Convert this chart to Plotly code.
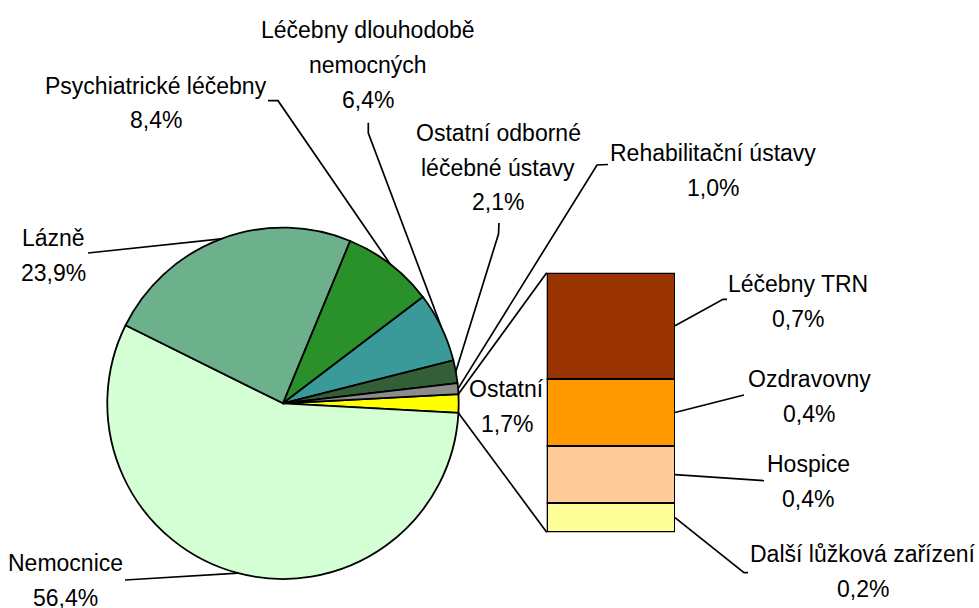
import math
import plotly.graph_objects as go

# ---------------- data ----------------
pie_labels = ["Ostatní", "Nemocnice", "Lázně", "Psychiatrické léčebny",
              "Léčebny dlouhodobě<br>nemocných", "Ostatní odborné<br>léčebné ústavy",
              "Rehabilitační ústavy"]
pie_values = [1.7, 56.4, 23.9, 8.4, 6.4, 2.1, 1.0]
pie_colors = ["#FFFF00", "#D4FFD4", "#6DB08C", "#2A912A", "#3A9A9A", "#335F38", "#8C8C8C"]

bar_labels = ["Další lůžková zařízení", "Hospice", "Ozdravovny", "Léčebny TRN"]
bar_values = [0.19, 0.37, 0.44, 0.69]
bar_colors = ["#FFFF99", "#FFCC99", "#FF9900", "#993300"]

# ---------------- layout constants (pixels) ----------------
W, H = 979, 608
FONT = dict(family="Liberation Sans, Arial, sans-serif", size=23, color="black")
LS = 35  # line spacing of labels
PIE_BOX = (107.3, 227.3, 458.7, 579.3)   # left, top, right, bottom
BAR_BOX = (546.7, 272.7, 675.0, 532.3)
ROT = 87.0

# label anchor: (center x, first baseline y) ; leader points near label
pie_label_pos = [(507, 396.7), (65, 570), (53, 245), (156, 93), (368, 37), (498, 140), (713, 160)]
pie_leader_pts = [None, [(125, 580)], [(88, 253)], [(268, 100.7), (278, 100.7)],
                  [(368.3, 122.7), (368.3, 133)], [(499, 223), (498.5, 234)],
                  [(608, 164.5), (597, 165)]]
bar_label_pos = [(862.5, 561.7), (808, 471.7), (809, 386.7), (797.5, 291.7)]
bar_leader_pts = [[(748, 572.7), (744, 572.7)], [(764, 480.7)], [(744, 395)], [(727, 299.3), (723, 299.3)]]


def px(x):
    return x / W


def py(y):
    return 1 - y / H


def pct(v):
    return f"{v:.1f}".replace(".", ",") + "%"


fig = go.Figure()

pie_dom_x = [px(PIE_BOX[0]), px(PIE_BOX[2])]
pie_dom_y = [py(PIE_BOX[3]), py(PIE_BOX[1])]
fig.add_trace(go.Pie(
    labels=pie_labels, values=pie_values, sort=False, direction="clockwise",
    rotation=ROT, textinfo="none", hoverinfo="skip", showlegend=False,
    marker=dict(colors=pie_colors, line=dict(color="black", width=1.8)),
    domain=dict(x=pie_dom_x, y=pie_dom_y),
))

for lab, val, col in zip(bar_labels, bar_values, bar_colors):
    fig.add_trace(go.Bar(
        x=[0], y=[val], width=1, name=lab, marker=dict(color=col, line=dict(color="black", width=1.8)),
        showlegend=False, hoverinfo="skip",
    ))

bar_total = sum(bar_values)
fig.update_layout(
    width=W, height=H, margin=dict(l=0, r=0, t=0, b=0),
    paper_bgcolor="white", plot_bgcolor="rgba(0,0,0,0)", barmode="stack",
    xaxis=dict(domain=[px(BAR_BOX[0]), px(BAR_BOX[2])], range=[-0.5, 0.5], visible=False, fixedrange=True),
    yaxis=dict(domain=[py(BAR_BOX[3]), py(BAR_BOX[1])], range=[0, bar_total], visible=False, fixedrange=True),
)

# pie geometry (same rule plotly uses: radius = half of smaller domain side)
cx = (PIE_BOX[0] + PIE_BOX[2]) / 2
cy = (PIE_BOX[1] + PIE_BOX[3]) / 2
r = min(PIE_BOX[2] - PIE_BOX[0], PIE_BOX[3] - PIE_BOX[1]) / 2
tot = sum(pie_values)


def edge(angle_deg):
    a = math.radians(angle_deg)
    return (cx + r * math.sin(a), cy - r * math.cos(a))


starts, mids, ends = [], [], []
ang = ROT
for v in pie_values:
    d = v / tot * 360
    starts.append(ang)
    mids.append(ang + d / 2)
    ends.append(ang + d)
    ang += d


def path(points):
    return "M " + " L ".join(f"{px(x):.5f},{py(y):.5f}" for x, y in points)


LINE = dict(color="black", width=1.7)


def add_label(lines, x, y0):
    for i, t in enumerate(lines):
        fig.add_annotation(x=px(x), y=py(y0 + i * LS - 7.5), xref="paper", yref="paper",
                           text=t, showarrow=False, xanchor="center", yanchor="middle", font=FONT)


# pie labels and leaders
for i, (lab, val) in enumerate(zip(pie_labels, pie_values)):
    lines = lab.split("<br>") + [pct(val)]
    add_label(lines, *pie_label_pos[i])
    if pie_leader_pts[i]:
        pts = pie_leader_pts[i] + [edge(mids[i])]
        fig.add_shape(type="path", path=path(pts), xref="paper", yref="paper", line=LINE)

# connectors from the "Ostatní" slice to the bar
p_top = edge(starts[0])
p_bot = edge(ends[0])
fig.add_shape(type="path", path=path([p_top, (BAR_BOX[0], BAR_BOX[1])]), xref="paper", yref="paper", line=LINE)
fig.add_shape(type="path", path=path([p_bot, (BAR_BOX[0], BAR_BOX[3])]), xref="paper", yref="paper", line=LINE)

# bar labels and leaders
acc = 0
for i, (lab, val) in enumerate(zip(bar_labels, bar_values)):
    mid_v = acc + val / 2
    acc += val
    y_mid = BAR_BOX[3] - (BAR_BOX[3] - BAR_BOX[1]) * mid_v / bar_total
    add_label([lab, pct(val)], *bar_label_pos[i])
    pts = [(BAR_BOX[2], y_mid)] + bar_leader_pts[i][::-1]
    fig.add_shape(type="path", path=path(pts), xref="paper", yref="paper", line=LINE)

fig.write_html("out.html", config={"displayModeBar": False},
               post_script="document.body.style.margin='0';document.body.style.overflow='hidden';")
